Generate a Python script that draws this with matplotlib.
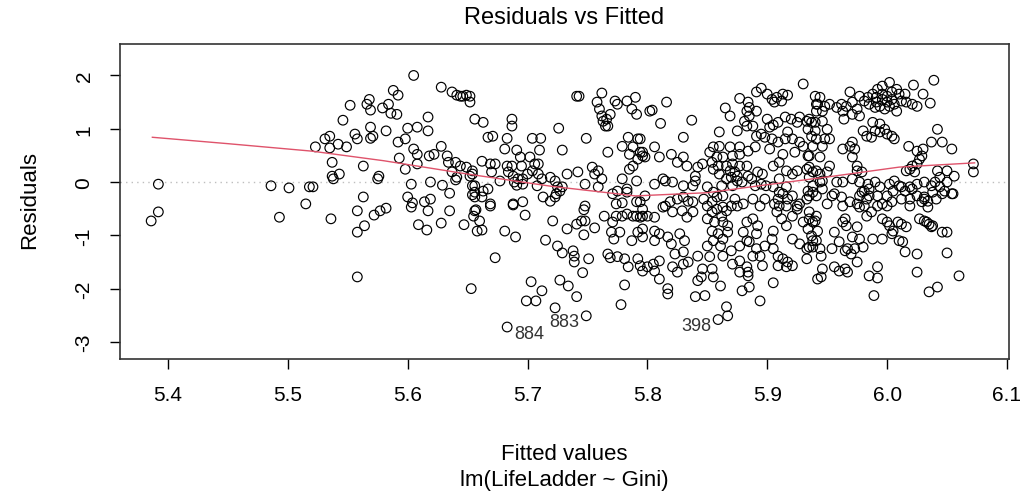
import matplotlib
matplotlib.use("Agg")
import matplotlib.pyplot as plt
import numpy as np

# ---- data ----
fitted = [
 5.386,5.392,5.392,5.486,5.501,5.493,5.515,5.518,
 5.605,5.628,5.637,5.641,5.644,5.646,5.649,5.588,5.592,5.568,5.566,5.569,5.579,5.584,5.586,5.591,5.552,5.546,
 5.617,5.617,5.600,5.608,5.569,5.571,5.569,5.582,5.556,5.558,5.535,5.531,5.523,5.535,5.542,5.549,5.592,5.598,
 5.605,5.608,5.628,5.618,5.622,5.593,5.537,5.563,5.598,5.608,5.633,5.634,5.640,5.644,5.649,5.654,5.654,5.637,
 5.641,5.537,5.543,5.576,5.521,5.603,5.629,5.619,5.654,5.635,5.563,5.600,5.604,5.614,5.619,5.654,
 5.538,5.575,5.640,5.603,5.617,5.635,5.657,5.655,5.658,5.536,5.558,5.572,5.577,5.582,5.564,5.558,5.609,5.616,
 5.628,5.647,5.558,5.653,
 5.741,5.743,5.762,5.758,5.760,5.762,5.763,5.765,5.767,5.766,5.769,5.773,5.775,5.783,5.790,5.787,5.791,5.802,
 5.652,5.652,5.656,5.663,5.687,5.687,5.726,5.667,5.671,5.683,5.704,5.711,5.749,5.681,5.691,5.710,5.729,5.767,
 5.779,5.784,5.792,5.788,5.785,5.796,5.798,5.792,5.788,5.785,5.662,5.669,5.673,5.683,5.687,5.694,5.695,5.702,
 5.706,5.709,5.670,5.677,5.684,5.688,5.692,5.696,5.700,5.704,5.709,5.712,5.719,5.723,5.725,5.733,5.742,5.754,
 5.756,5.759,5.762,5.779,5.783,5.791,5.748,5.759,5.689,5.691,5.696,5.708,5.652,5.656,5.663,5.656,5.662,5.669,
 5.688,5.696,5.713,5.719,5.724,5.727,5.729,5.748,5.771,5.775,5.783,5.779,5.791,5.794,5.798,
 5.656,5.667,5.669,5.656,5.660,5.662,5.688,5.698,5.723,5.721,5.681,5.690,5.715,5.673,5.747,5.745,5.748,5.741,
 5.733,5.756,5.747,5.764,5.771,5.774,5.770,5.777,5.772,5.779,5.783,5.788,5.791,5.796,5.800,5.796,5.792,5.787,
 5.774,5.725,5.729,5.738,5.739,5.739,5.751,5.746,5.767,5.769,5.775,5.781,5.784,5.792,5.794,5.796,5.703,5.712,
 5.727,5.734,5.741,5.699,5.707,5.723,5.749,5.781,5.778,5.683,
 5.930,5.895,5.891,5.900,5.904,5.908,5.913,5.917,5.912,5.906,5.877,5.884,5.885,5.883,5.885,5.881,5.883,5.888,
 5.865,5.869,5.940,5.941,5.816,5.804,5.811,5.837,5.830,5.860,5.875,5.891,5.900,5.905,5.902,5.909,5.915,5.920,
 5.925,5.927,5.933,5.937,5.934,5.940,5.941,5.891,5.895,5.898,5.904,5.909,5.915,5.917,5.921,5.927,5.930,5.890,
 5.902,5.913,5.923,5.934,5.794,5.794,5.796,5.806,5.810,5.820,5.825,5.830,5.833,5.842,5.840,5.838,5.846,5.852,
 5.855,5.860,5.869,5.877,5.884,5.858,5.863,5.871,5.877,5.854,5.859,5.855,5.866,5.871,5.877,5.883,5.869,5.873,
 5.875,5.870,5.866,5.875,5.879,5.871,5.860,5.862,5.855,5.858,5.854,5.863,5.884,5.887,5.892,5.896,5.890,5.895,
 5.899,5.905,5.910,5.916,5.921,5.925,5.933,5.938,5.944,5.910,5.916,5.913,5.909,5.917,5.921,5.910,5.925,5.933,
 5.934,5.938,5.944,5.806,5.813,5.821,5.819,5.825,5.830,5.834,5.838,5.815,5.888,5.898,5.894,5.880,5.863,5.873,
 5.875,
 5.815,5.830,5.840,5.850,5.796,5.794,5.806,5.813,5.821,5.829,5.833,5.838,5.796,5.806,5.810,5.806,5.817,5.820,
 5.827,5.831,5.830,5.823,5.800,5.805,5.810,5.806,5.810,5.817,5.817,5.821,5.830,5.834,5.825,5.847,5.850,5.854,
 5.858,5.862,5.866,5.870,5.850,5.856,5.863,5.867,5.854,5.859,5.863,5.855,5.861,5.867,5.850,5.842,5.852,5.863,
 5.870,5.877,5.883,5.877,5.871,5.883,5.846,5.854,5.845,5.842,5.855,5.861,5.840,5.848,5.877,5.884,5.884,5.879,
 5.885,5.894,5.866,5.867,5.859,5.883,5.888,5.892,5.880,5.891,5.885,5.891,5.898,5.888,5.894,5.896,5.905,5.910,
 5.916,5.906,5.908,5.912,5.916,5.921,5.925,5.927,5.938,5.935,5.930,5.934,5.938,5.941,5.905,5.904,5.905,5.909,
 5.913,5.917,5.909,5.916,5.921,5.921,5.927,5.933,5.933,5.938,5.941,5.905,5.942,
 6.039,6.022,6.030,6.036,6.002,5.996,5.992,5.988,5.984,5.981,5.985,5.991,5.996,6.000,6.004,6.008,6.010,6.015,
 6.012,6.016,6.006,6.002,5.998,5.994,5.990,6.008,6.021,6.025,6.004,6.000,5.996,5.991,5.969,5.977,5.971,5.966,
 5.963,5.962,5.958,5.952,5.948,5.944,5.942,5.941,5.946,5.975,5.977,5.971,5.964,5.935,5.940,5.946,5.950,5.937,
 5.948,5.952,5.938,5.946,5.944,5.935,5.980,5.983,5.987,5.990,5.994,5.998,6.000,6.004,6.006,5.988,5.994,5.963,
 5.969,5.971,5.973,5.971,5.975,5.975,5.979,6.018,6.025,6.030,6.029,6.027,6.025,6.021,6.019,6.016,6.023,6.042,
 6.037,6.046,6.054,6.072,6.072,6.042,6.050,6.056,6.044,5.935,5.941,5.952,5.950,5.935,5.946,5.958,5.963,5.971,
 5.977,5.984,5.990,5.981,5.985,5.994,6.002,6.006,6.010,6.015,6.019,6.025,6.031,6.037,6.044,6.048,6.055,6.046,
 6.041,6.031,6.029,6.019,6.012,6.004,6.000,5.996,5.977,5.969,5.962,5.954,5.950,5.941,5.935,
 5.946,5.956,5.963,5.979,5.983,5.985,5.992,6.005,6.012,6.021,6.025,6.031,6.034,6.038,6.054,6.040,6.050,6.034,
 6.035,6.037,6.046,6.050,6.027,6.033,6.019,6.000,5.992,5.987,5.983,5.981,5.977,5.975,5.935,5.940,5.942,5.937,
 5.938,5.935,5.944,5.945,5.954,5.956,5.960,5.963,5.966,5.965,5.971,5.975,5.977,5.980,5.973,5.967,5.965,5.970,
 5.975,5.967,5.965,5.960,5.956,5.946,5.945,5.996,6.000,6.002,6.005,6.009,6.012,6.016,6.004,6.010,6.013,5.988,
 5.996,6.015,6.025,6.025,6.031,6.038,6.050,6.060,6.042,6.035,5.992,5.985,5.992,5.989,
]
residuals = [
 -0.73,-0.56,-0.04,-0.07,-0.11,-0.66,-0.41,-0.09,
 2.00,1.78,1.69,1.63,1.61,1.61,1.63,1.72,1.63,1.55,1.46,1.35,1.39,1.46,1.29,1.27,1.44,1.16,
 1.22,0.96,1.01,1.03,1.03,0.86,0.82,0.96,0.90,0.81,0.86,0.81,0.66,0.64,0.71,0.66,0.75,0.81,
 0.62,0.52,0.67,0.49,0.52,0.45,0.37,0.30,0.24,0.34,0.49,0.37,0.37,0.30,0.28,0.21,0.15,0.19,
 0.09,0.11,0.15,0.11,-0.09,-0.04,-0.06,0.00,-0.07,-0.21,-0.28,-0.28,-0.39,-0.37,-0.32,-0.24,
 0.06,0.06,0.04,-0.47,-0.54,-0.54,-0.52,-0.64,-0.92,-0.69,-0.54,-0.62,-0.54,-0.49,-0.82,-0.94,-0.80,-0.90,
 -0.77,-0.80,-1.78,-2.00,
 1.61,1.61,1.67,1.50,1.37,1.24,1.14,1.05,1.05,1.18,1.27,1.52,1.46,1.52,1.59,1.37,1.27,1.33,
 1.61,1.50,1.18,1.12,1.18,1.05,1.01,0.84,0.86,0.82,0.82,0.82,0.82,0.62,0.60,0.60,0.60,0.56,
 0.67,0.84,0.81,0.66,0.52,0.56,0.47,0.43,0.30,0.24,0.39,0.34,0.34,0.30,0.30,0.47,0.30,0.47,
 0.34,0.34,0.19,0.02,0.19,0.11,0.06,0.06,0.15,0.21,0.15,0.06,0.09,0.02,-0.09,0.15,0.19,0.28,
 0.15,0.21,0.06,0.06,-0.13,0.02,-0.04,-0.09,0.00,-0.06,-0.04,-0.07,0.11,-0.07,-0.17,-0.28,-0.28,-0.41,
 -0.41,-0.37,-0.28,-0.36,-0.22,-0.17,-0.09,-0.45,-0.22,-0.17,-0.19,-0.39,-0.37,-0.37,-0.26,
 -0.19,-0.13,-0.45,-0.54,-0.73,-0.90,-0.43,-0.62,-0.28,-0.73,-0.92,-1.03,-1.09,-1.42,-0.52,-0.73,-0.73,-0.79,
 -0.88,-0.86,-0.99,-0.64,-0.75,-0.64,-0.94,-0.94,-1.07,-0.64,-0.60,-0.64,-0.64,-0.64,-0.64,-0.88,-0.94,-1.10,
 -0.41,-1.20,-1.33,-1.29,-1.39,-1.50,-1.44,-1.70,-1.35,-1.42,-1.40,-1.44,-1.59,-1.44,-1.57,-1.67,-1.87,-2.04,
 -1.84,-1.95,-2.15,-2.23,-2.23,-2.36,-2.51,-1.93,-2.30,-2.72,
 1.84,1.76,1.69,1.65,1.55,1.59,1.65,1.63,1.52,1.50,1.57,1.50,1.40,1.33,1.24,1.14,1.05,1.05,
 1.39,1.24,1.61,1.46,1.50,1.35,1.10,1.16,0.84,0.94,0.96,1.33,1.18,1.07,1.03,1.12,1.22,1.18,
 1.12,1.22,1.14,1.12,0.99,0.96,0.81,0.86,0.90,0.84,0.81,0.75,0.81,0.94,0.81,0.75,0.67,0.66,
 0.62,0.52,0.56,0.49,0.81,0.56,0.49,0.66,0.47,0.52,0.37,0.47,0.30,0.28,0.11,-0.07,0.34,0.56,
 0.66,0.67,0.66,0.66,0.58,0.47,0.47,0.49,0.52,0.37,0.30,0.24,0.30,0.34,0.30,0.30,0.21,0.19,
 0.11,0.09,0.06,0.02,0.00,-0.07,0.15,-0.07,-0.19,-0.28,-0.37,-0.26,0.11,0.06,0.19,0.15,-0.07,-0.04,
 -0.07,0.30,0.37,0.21,0.15,0.21,0.24,0.19,0.15,0.06,-0.09,-0.22,-0.32,-0.32,-0.26,-0.45,-0.45,-0.32,
 -0.17,-0.07,0.00,-0.04,0.06,0.00,-0.37,-0.32,-0.28,-0.36,-0.37,-0.45,-0.32,-0.32,-0.45,-0.41,-0.47,-0.32,
 -0.45,
 0.02,-0.07,0.02,-0.09,-0.51,-0.66,-0.66,-0.47,-0.56,-0.54,-0.66,-0.56,-1.03,-0.92,-0.97,-1.10,-1.03,-1.16,
 -0.97,-1.10,-1.31,-1.35,-1.59,-1.54,-1.48,-1.67,-1.82,-2.00,-2.10,-1.59,-1.54,-1.50,-1.69,-0.32,-0.45,-0.56,
 -0.51,-0.64,-0.54,-0.45,-0.69,-0.75,-0.75,-0.82,-0.92,-0.97,-1.07,-1.10,-1.20,-0.94,-1.20,-1.39,-1.40,-1.39,
 -1.29,-1.20,-1.10,-1.48,-1.54,-1.59,-1.63,-1.63,-1.78,-1.85,-1.78,-1.95,-2.15,-2.13,-1.69,-1.69,-1.76,-2.04,
 -1.97,-2.23,-2.34,-2.51,-2.58,-0.75,-0.69,-0.82,-0.94,-0.97,-1.12,-1.25,-1.20,-1.39,-1.39,-1.57,-0.09,-0.19,
 -0.45,-0.41,-0.56,-0.69,-0.82,-0.64,-0.51,-0.41,-0.19,-0.56,-0.75,-0.88,-0.75,-0.64,-0.92,-1.07,-1.25,-1.39,
 -1.44,-1.50,-1.57,-1.59,-1.57,-1.07,-1.16,-1.25,-1.44,-1.22,-1.10,-1.89,-1.82,
 1.91,1.82,1.65,1.48,1.87,1.80,1.74,1.65,1.59,1.52,1.46,1.50,1.55,1.61,1.69,1.74,1.65,1.65,
 1.52,1.50,1.46,1.42,1.37,1.42,1.40,1.33,1.46,1.42,1.55,1.50,1.65,1.59,1.69,1.61,1.50,1.42,
 1.33,1.46,1.40,1.46,1.42,1.59,1.46,1.33,1.33,1.37,1.24,1.27,1.18,1.18,1.12,1.14,0.99,0.86,
 0.81,0.81,0.67,0.67,0.47,0.49,0.96,0.86,0.84,0.96,0.94,0.99,0.90,0.86,0.81,1.12,1.09,0.62,
 0.67,0.75,0.62,0.47,0.30,0.21,0.19,0.67,0.58,0.62,0.49,0.43,0.34,0.30,0.24,0.21,0.19,0.99,
 0.75,0.75,0.62,0.34,0.19,0.21,0.21,0.11,0.09,0.28,0.21,0.30,0.19,0.09,0.02,0.00,0.00,0.06,
 0.00,-0.04,0.00,-0.17,-0.26,-0.09,-0.04,0.02,-0.07,-0.17,-0.09,-0.04,0.00,-0.07,-0.09,-0.17,-0.22,-0.22,
 -0.32,-0.32,-0.37,-0.32,-0.32,-0.37,-0.26,-0.41,-0.26,-0.37,-0.28,-0.26,-0.41,-0.26,-0.26,
 -0.13,-0.22,-0.45,-0.19,-0.32,-0.13,-0.26,-0.17,-0.09,-0.13,-0.26,-0.28,-0.36,-0.19,-0.22,0.00,0.00,-0.47,
 -0.79,-0.84,-0.94,-0.94,-0.69,-0.75,-0.45,-0.45,-0.45,-0.56,-0.64,-0.45,-0.47,-0.41,-0.69,-0.73,-0.92,-1.01,
 -1.10,-1.22,-1.25,-1.39,-1.25,-0.94,-1.12,-0.75,-0.82,-0.69,-1.03,-0.84,-1.07,-1.22,-1.25,-1.25,-1.29,-1.35,
 -1.50,-1.69,-1.63,-1.67,-1.59,-1.63,-1.78,-0.69,-0.75,-0.82,-0.92,-0.75,-0.79,-0.84,-0.97,-1.10,-1.12,-1.07,
 -1.07,-1.31,-1.35,-1.69,-0.73,-0.82,-1.33,-1.76,-1.97,-2.06,-1.59,-1.76,-1.80,-2.13,
]

smooth_x = [5.387, 5.45, 5.52, 5.58, 5.65, 5.72, 5.79, 5.85, 5.90, 5.955, 6.01, 6.073]
smooth_y = [0.84, 0.72, 0.58, 0.40, 0.15, -0.08, -0.26, -0.20, -0.05, 0.11, 0.28, 0.36]

labeled_ids = ["884", "883", "398"]
labeled_x = [5.683, 5.749, 5.859]
labeled_y = [-2.72, -2.51, -2.58]

x_ticks = [5.4, 5.5, 5.6, 5.7, 5.8, 5.9, 6.0, 6.1]
x_ticklabels = ["5.4", "5.5", "5.6", "5.7", "5.8", "5.9", "6.0", "6.1"]
y_ticks = [-3, -2, -1, 0, 1, 2]

n = min(len(fitted), len(residuals))
fx = np.array(fitted[:n]); ry = np.array(residuals[:n])

plt.rcParams['font.family'] = ['Liberation Sans', 'DejaVu Sans']

fig = plt.figure(figsize=(10.26, 5.02), dpi=100)
ax = fig.add_axes([120/1026, 1-360/502, (1009-120)/1026, (360-45)/502])

ax.axhline(0, color='#BEBEBE', linestyle=(0, (1, 3)), linewidth=1.0, zorder=1)
ax.scatter(fx, ry, s=48, facecolors='none', edgecolors='black', linewidths=0.85, zorder=2)
ax.plot(smooth_x, smooth_y, color='#DF536B', linewidth=1.0, zorder=3)

# R's plot.lm: labels to the right of points left of the x-range midpoint, otherwise to the left
mid = (fx.min() + fx.max()) / 2
for lab, x, y in zip(labeled_ids, labeled_x, labeled_y):
    if x < mid:
        ax.annotate(lab, (x, y), xytext=(5, -5), textcoords='offset points', ha='left', va='center', fontsize=13, color='#333333')
    else:
        ax.annotate(lab, (x, y), xytext=(-5, -4), textcoords='offset points', ha='right', va='center', fontsize=13, color='#333333')

ax.set_xlim(5.360, 6.1017)
ax.set_ylim(-3.32, 2.59)
ax.set_xticks(x_ticks)
ax.set_xticklabels(x_ticklabels)
ax.set_yticks(y_ticks)
ax.set_yticklabels([str(v) for v in y_ticks], rotation=90, va='center')
ax.tick_params(direction='out', length=7, width=1, labelsize=15, pad=12)
for sp in ax.spines.values():
    sp.set_linewidth(1.2)
    sp.set_color('#333333')

ax.set_title("Residuals vs Fitted", fontsize=17, pad=15)
fig.text(0.5*(120+1009)/1026, 1-455/502, "Fitted values", ha='center', va='center', fontsize=16)
fig.text(0.5*(120+1009)/1026, 1-481/502, "lm(LifeLadder ~ Gini)", ha='center', va='center', fontsize=16)
fig.text(30/1026, 1-200/502, "Residuals", rotation=90, ha='center', va='center', fontsize=16)

fig.savefig("out.png", dpi=100)
